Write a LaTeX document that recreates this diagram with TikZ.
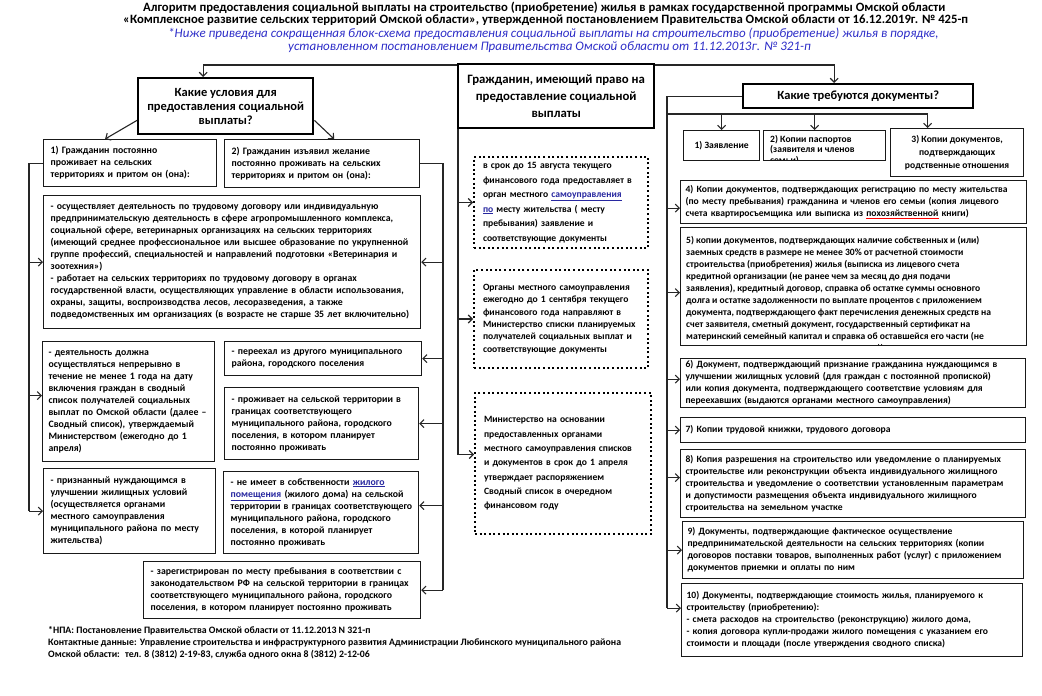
\documentclass[tikz,border=0pt]{standalone}
\usepackage{fontspec}
\setmainfont{Carlito}
\usetikzlibrary{arrows.meta}
\definecolor{noteblue}{RGB}{45,45,200}
\definecolor{markblue}{RGB}{40,40,160}
\newcommand{\bluemark}[1]{\textcolor{markblue}{\underline{#1}}}
\newcommand{\redmark}[1]{\textcolor{red}{\underline{\textcolor{black}{#1}}}}

\begin{document}
\begin{tikzpicture}[x=1pt,y=-1pt,
  box/.style={draw=black!90, line width=1.2pt, anchor=north west, align=left, inner xsep=7pt, inner ysep=2pt,
    font=\fontsize{9.8}{12}\selectfont\bfseries},
  doc/.style={box, inner xsep=5pt, font=\fontsize{9.6}{12}\selectfont\bfseries},
  dots/.style={box, draw=black, line width=2pt, dash pattern=on 2pt off 2.6pt, inner xsep=9pt},
  head/.style={draw=black, line width=2.4pt, anchor=north west, align=center, font=\fontsize{12.5}{15}\selectfont\bfseries},
  clipped/.style={anchor=north west, draw=none, inner sep=0pt, minimum width=0pt, minimum height=0pt, align=left},
  titlefont/.style={anchor=west, inner sep=0pt, font=\fontsize{12.7}{15}\selectfont\bfseries},
  notefont/.style={anchor=west, inner sep=0pt, text=noteblue, font=\fontsize{13}{15}\selectfont\itshape},
  line/.style={draw=black!85, line width=1.1pt},
  arr/.style={line, -{Straight Barb[length=4pt,width=8pt]}}]
\useasboundingbox (0,0) rectangle (1042,696);
\fill[white] (0,0) rectangle (1042,696);

\node[titlefont] (title1) at (143,7.5)
  {Алгоритм предоставления социальной выплаты на строительство (приобретение) жилья в рамках государственной программы Омской области};
\node[titlefont] (title2) at (123,20.5)
  {«Комплексное развитие сельских территорий Омской области», утвержденной постановлением Правительства Омской области от 16.12.2019г. № 425-п};
\node[notefont] (note1) at (168,34)
  {*Ниже приведена сокращенная блок-схема предоставления социальной выплаты на строительство (приобретение) жилья в порядке,};
\node[notefont] (note2) at (288,47)
  {установленном постановлением Правительства Омской области от 11.12.2013г. № 321-п};

\node[head, minimum width=175pt, minimum height=56pt, font=\fontsize{12.5}{14}\selectfont\bfseries] (q1) at (137,77)
  {Какие условия для\\предоставления социальной\\выплаты?};
\node[head, minimum width=196pt, minimum height=64pt, font=\fontsize{12.8}{17}\selectfont\bfseries] (mid) at (457,63)
  {Гражданин, имеющий право на\\предоставление социальной\\выплаты};
\node[head, minimum width=230pt, minimum height=24pt] (q2) at (742,83) {Какие требуются документы?};

\node[box, minimum width=173pt, minimum height=47pt, text width=159pt] (c1) at (43,139)
  {1) Гражданин постоянно\\проживает на сельских\\территориях и притом он (она):};
\node[box, minimum width=195pt, minimum height=48pt, text width=181pt] (c2) at (224,139)
  {2) Гражданин изъявил желание\\постоянно проживать на сельских\\территориях и притом он (она):};
\node[box, minimum width=377pt, minimum height=133pt, text width=363pt] (cbig) at (43,195)
  {- осуществляет деятельность по трудовому договору или индивидуальную\\
   предпринимательскую деятельность в сфере агропромышленного комплекса,\\
   социальной сфере, ветеринарных организациях на сельских территориях\\
   (имеющий среднее профессиональное или высшее образование по укрупненной\\
   группе профессий, специальностей и направлений подготовки «Ветеринария и\\
   зоотехния»)\\
   - работает на сельских территориях по трудовому договору в органах\\
   государственной власти, осуществляющих управление в области использования,\\
   охраны, защиты, воспроизводства лесов, лесоразведения, а также\\
   подведомственных им организациях (в возрасте не старше 35 лет включительно)};
\node[box, minimum width=172pt, minimum height=120pt, text width=160pt, inner xsep=6pt] (ca) at (42,341)
  {- деятельность должна\\осуществляться непрерывно в\\течение не менее 1 года на дату\\включения граждан в сводный\\
   список получателей социальных\\выплат по Омской области (далее –\\Сводный список), утверждаемый\\Министерством (ежегодно до 1\\апреля)};
\node[box, minimum width=172pt, minimum height=85pt, text width=158pt] (cb) at (43,468)
  {- признанный нуждающимся в\\улучшении жилищных условий\\(осуществляется органами\\местного самоуправления\\муниципального района по месту\\жительства)};
\node[box, minimum width=197pt, minimum height=34pt, text width=183pt] (cc) at (224,341)
  {- переехал из другого муниципального\\района, городского поселения};
\node[box, minimum width=194pt, minimum height=72pt, text width=180pt] (cd) at (224,387)
  {- проживает на сельской территории в\\границах соответствующего\\муниципального района, городского\\поселения, в котором планирует\\постоянно проживать};
\node[box, minimum width=195pt, minimum height=82pt, text width=185pt, inner xsep=5pt] (ce) at (223,471)
  {\hspace*{2pt}- не имеет в собственности \bluemark{жилого}\\\hspace*{2pt}\bluemark{помещения} (жилого дома) на сельской\\\hspace*{2pt}территории в границах соответствующего\\
   \hspace*{2pt}муниципального района, городского\\\hspace*{2pt}поселения, в которой планирует\\\hspace*{2pt}постоянно проживать};
\node[box, minimum width=277pt, minimum height=57pt, text width=263pt] (cf) at (143,561)
  {- зарегистрирован по месту пребывания в соответствии с\\законодательством РФ на сельской территории в границах\\
   соответствующего муниципального района, городского\\поселения, в котором планирует постоянно проживать};

\node[dots, minimum width=174pt, minimum height=91pt, text width=156pt, font=\fontsize{9.6}{14.5}\selectfont\bfseries] (s1) at (473,156)
  {в срок до 15 августа текущего\\финансового года предоставляет в\\орган местного \bluemark{самоуправления}\\
   \bluemark{по} месту жительства ( месту\\пребывания) заявление и\\соответствующие документы};
\node[dots, minimum width=174pt, minimum height=98pt, text width=156pt, font=\fontsize{9.6}{12.3}\selectfont\bfseries] (s2) at (473,269)
  {Органы местного самоуправления\\ежегодно до 1 сентября текущего\\финансового года направляют в\\
   Министерство списки планируемых\\получателей социальных выплат и\\соответствующие документы};
\node[dots, minimum width=176pt, minimum height=141pt, text width=158pt, font=\fontsize{9.6}{14.3}\selectfont\bfseries] (s3) at (474,392)
  {Министерство на основании\\предоставленных органами\\местного самоуправления списков\\и документов в срок до 1 апреля\\
   утверждает распоряжением\\Сводный список в очередном\\финансовом году};

\node[doc, align=center, minimum width=76pt, minimum height=30pt] (d1) at (683,130) {1) Заявление};
\node[doc, minimum width=122pt, minimum height=30pt,
  path picture={\node[clipped, font=\fontsize{9.6}{10.5}\selectfont\bfseries]
    at ([xshift=6pt,yshift=-4pt]path picture bounding box.north west) {2) Копии паспортов\\(заявителя и членов\\семьи)};}] (d2) at (763,130) {};
\node[doc, align=center, minimum width=133pt, minimum height=48pt, font=\fontsize{9.6}{13}\selectfont\bfseries] (d3) at (890,128)
  {3) Копии документов,\\подтверждающих\\родственные отношения};
\node[doc, minimum width=346pt, minimum height=43pt, text width=336pt] (d4) at (680,180)
  {4) Копии документов, подтверждающих регистрацию по месту жительства\\(по месту пребывания) гражданина и членов его семьи (копия лицевого\\
   счета квартиросъемщика или выписка из \redmark{похозяйственной} книги)};
\node[doc, minimum width=346pt, minimum height=118pt,
  path picture={\node[clipped, font=\fontsize{9.6}{12}\selectfont\bfseries]
    at ([xshift=5pt,yshift=-8pt]path picture bounding box.north west)
    {5) копии документов, подтверждающих наличие собственных и (или)\\заемных средств в размере не менее 30\% от расчетной стоимости\\
     строительства (приобретения) жилья (выписка из лицевого счета\\кредитной организации (не ранее чем за месяц до дня подачи\\
     заявления), кредитный договор, справка об остатке суммы основного\\долга и остатке задолженности по выплате процентов с приложением\\
     документа, подтверждающего факт перечисления денежных средств на\\счет заявителя, сметный документ, государственный сертификат на\\
     материнский семейный капитал и справка об оставшейся его части (не\\ранее чем за месяц до дня подачи заявления))};}] (d5) at (680,227) {};
\node[doc, minimum width=345pt, minimum height=49pt, text width=335pt, inner ysep=0pt] (d6) at (680,358)
  {6) Документ, подтверждающий признание гражданина нуждающимся в\\улучшении жилищных условий (для граждан с постоянной пропиской)\\
   или копия документа, подтверждающего соответствие условиям для\\переехавших (выдаются органами местного самоуправления)};
\node[doc, minimum width=345pt, minimum height=25pt, text width=335pt] (d7) at (680,417) {7) Копии трудовой книжки, трудового договора};
\node[doc, minimum width=345pt, minimum height=68pt, text width=335pt] (d8) at (680,449)
  {8) Копия разрешения на строительство или уведомление о планируемых\\строительстве или реконструкции объекта индивидуального жилищного\\
   строительства и уведомление о соответствии установленным параметрам\\и допустимости размещения объекта индивидуального жилищного\\
   строительства на земельном участке};
\node[doc, minimum width=341pt, minimum height=57pt, text width=331pt] (d9) at (682,521)
  {9) Документы, подтверждающие фактическое осуществление\\предпринимательской деятельности на сельских территориях (копии\\
   договоров поставки товаров, выполненных работ (услуг) с приложением\\документов приемки и оплаты по ним};
\node[doc, minimum width=341pt, minimum height=73pt, text width=331pt] (d10) at (681,583)
  {10) Документы, подтверждающие стоимость жилья, планируемого к\\строительству (приобретению):\\
   - смета расходов на строительство (реконструкцию) жилого дома,\\- копия договора купли-продажи жилого помещения с указанием его\\
   стоимости и площади (после утверждения сводного списка)};

\node[anchor=north west, align=left, inner sep=0pt, font=\fontsize{9.8}{12}\selectfont\bfseries] (foot) at (48,626)
  {*НПА: Постановление Правительства Омской области от 11.12.2013 N 321-п\\
   Контактные данные: Управление строительства и инфраструктурного развития Администрации Любинского муниципального района\\
   Омской области:~ тел. 8 (3812) 2-19-83, служба одного окна 8 (3812) 2-12-06};

\coordinate (lbus) at (29,0);
\coordinate (rbus) at (443,0);
\coordinate (mbus) at (458,0);
\coordinate (dbus) at (667,0);
\coordinate (dtop) at (667,114);
\coordinate (s3in) at ([yshift=9pt]s3.west);
\coordinate (d2in) at ([xshift=-10pt]d2.north);
\coordinate (d10in) at ([yshift=12pt]d10.west);

\draw[arr] ([yshift=-2pt]mid.north west) -| ([xshift=-22.5pt]q1.north);
\draw[arr] ([yshift=-2pt]mid.north east) -| ([xshift=-24pt]q2.north);
\draw[arr] ([yshift=15pt]q1.south west) -- ([xshift=-25pt]c1.north);
\draw[arr] ([yshift=15pt]q1.south east) -- ([xshift=12pt]c2.north);

\draw[line] (c1.west) -| (lbus |- cb.west);
\draw[arr] (lbus |- cbig.west) -- (cbig.west);
\draw[arr] ([yshift=6pt]ca.west -| lbus) -- ([yshift=6pt]ca.west);
\draw[arr] (lbus |- cb.west) -- (cb.west);

\draw[line] (c2.east) -| (rbus |- cf.east);
\draw[arr] (rbus |- cbig.east) -- (cbig.east);
\draw[arr] (rbus |- cc.east) -- (cc.east);
\draw[arr] (rbus |- cd.east) -- (cd.east);
\draw[arr] ([yshift=7pt]ce.east -| rbus) -- ([yshift=7pt]ce.east);
\draw[arr] (rbus |- cf.east) -- (cf.east);

\draw[line] (mbus |- mid.south) -- (mbus |- s3in);
\draw[arr] (mbus |- s1.west) -- (s1.west);
\draw[arr] (mbus |- s2.west) -- (s2.west);
\draw[arr] (mbus |- s3in) -- (s3in);

\draw[line] (q2.west) -| (dbus |- d10in);
\draw[arr] (dtop) -| ([xshift=-29.5pt]d3.north);
\draw[arr] (dtop -| d1.north) -- (d1.north);
\draw[arr] (dtop -| d2in) -- (d2in);
\draw[arr] ([yshift=-6pt]d4.west -| dbus) -- ([yshift=-6pt]d4.west);
\draw[arr] ([yshift=-6pt]d5.west -| dbus) -- ([yshift=-6pt]d5.west);
\draw[arr] ([yshift=4pt]d6.west -| dbus) -- ([yshift=4pt]d6.west);
\draw[arr] (dbus |- d7.west) -- (d7.west);
\draw[arr] ([yshift=6pt]d8.west -| dbus) -- ([yshift=6pt]d8.west);
\draw[arr] (dbus |- d9.west) -- (d9.west);
\draw[arr] (dbus |- d10in) -- (d10in);
\end{tikzpicture}
\end{document}
